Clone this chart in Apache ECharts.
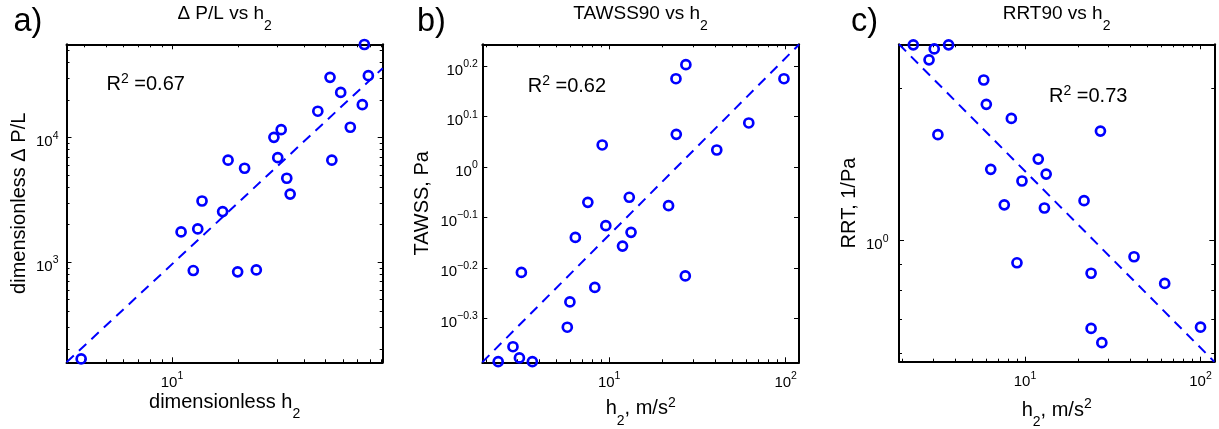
<!DOCTYPE html>
<html><head><meta charset="utf-8">
<script src="https://cdn.jsdelivr.net/npm/echarts@6/dist/echarts.min.js"></script>
<style>html,body{margin:0;padding:0;background:#fff}#c{width:1219px;height:429px}</style>
</head><body><div id="c"></div>
<script>
// ---------- data ----------
// a) dimensionless dP/L vs dimensionless h2
const aH2  = [3.86, 11.0, 13.1, 12.5, 13.7, 17.0, 18.0, 19.9, 21.4, 24.2, 29.1, 31.4, 30.3, 33.3, 34.5, 46.1, 52.4, 53.4, 58.6, 64.8, 73.5, 75.1, 78.3];
const aDPL = [167, 1750, 1850, 857, 3100, 2550, 6590, 836, 5680, 867, 10070, 11590, 6910, 4720, 3520, 16300, 30540, 6590, 23100, 12120, 18400, 56000, 31450];
const aFitX = [3.31, 91];
const aFitY = [157, 36100];
// b) TAWSS90 vs h2
const bH2    = [2.35, 2.85, 3.10, 3.67, 3.18, 5.79, 5.99, 6.43, 7.57, 8.29, 9.13, 9.57, 11.9, 13.0, 13.3, 21.7, 23.9, 24.0, 27.2, 27.0, 40.7, 61.8, 97.8];
const bTAWSS = [0.411, 0.440, 0.418, 0.411, 0.618, 0.481, 0.540, 0.725, 0.851, 0.577, 1.106, 0.765, 0.697, 0.871, 0.742, 0.838, 1.497, 1.161, 1.596, 0.608, 1.081, 1.223, 1.497];
const bFitX = [1.91, 119];
const bFitY = [0.41, 1.75];
// c) RRT90 vs h2
const cH2  = [2.31, 3.04, 3.67, 2.84, 3.19, 5.82, 6.02, 6.38, 7.62, 8.36, 9.00, 9.61, 11.9, 13.2, 12.9, 21.7, 23.8, 23.8, 26.9, 27.4, 41.8, 62.5, 100];
const cRRT = [2.43, 2.385, 2.43, 2.27, 1.617, 2.072, 1.856, 1.382, 1.177, 1.741, 0.905, 1.311, 1.448, 1.353, 1.160, 1.199, 0.863, 0.672, 1.644, 0.630, 0.930, 0.824, 0.676];
const cFitX = [1.915, 119.8];
const cFitY = [2.436, 0.578];

// axis ranges
const aXRange = [3.31, 91],   aYRange = [157, 56200];
const bXRange = [1.91, 119],  bYRange = [0.4098, 1.752];
const cXRange = [1.915, 119.8], cYRange = [0.578, 2.436];

// ticks
const aXMajor = [10];
const aXMinor = [4, 5, 6, 7, 8, 9, 20, 30, 40, 50, 60, 70, 80, 90];
const aYMajor = [1000, 10000];
const aYMinor = [200, 300, 400, 500, 600, 700, 800, 900, 2000, 3000, 4000, 5000, 6000, 7000, 8000, 9000, 20000, 30000, 40000, 50000];
const bXMajor = [10, 100];
const bXMinor = [2, 3, 4, 5, 6, 7, 8, 9, 20, 30, 40, 50, 60, 70, 80, 90];
const bYExponents = [-0.3, -0.2, -0.1, 0, 0.1, 0.2];
const cXMajor = [10, 100];
const cXMinor = [2, 3, 4, 5, 6, 7, 8, 9, 20, 30, 40, 50, 60, 70, 80, 90];
const cYMajor = [1];
const cYMinor = [0.6, 0.7, 0.8, 0.9, 2];

const panelLetters = ['a)', 'b)', 'c)'];
const panelTitles = [['\u0394 P/L vs h', '2'], ['TAWSS90 vs h', '2'], ['RRT90 vs h', '2']];
const r2Texts = ['=0.67', '=0.62', '=0.73'];

// ---------- styling ----------
const FONT = "'Liberation Sans', Arial, Helvetica, sans-serif";
function rs(size, lh, padTop) {
  return {fontSize: size, lineHeight: lh, padding: [padTop || 0, 0, 0, 0], verticalAlign: 'top', fontFamily: FONT, color: '#000'};
}
const tickRich = {b: rs(15, 15, 4.4), s: rs(10.5, 10.5, 0)};
function powLabel(v) {
  const e = Math.round(Math.log10(v) * 10) / 10;
  return '{b|10}{s|' + (e < 0 ? '\u2212' : '') + Math.abs(e) + '}';
}

const grids = [
  {left: 66.5, top: 44.3, width: 316.2, height: 318},
  {left: 482.3, top: 44.3, width: 316.7, height: 318},
  {left: 899, top: 44.3, width: 315.3, height: 317.4}
];

const xAxes = [], yAxes = [];
function addAxes(list, dim, gi, range, major, minor, o) {
  const isX = dim === 'x';
  const pos = isX ? ['bottom', 'top'] : ['left', 'right'];
  const base = {type: 'log', logBase: 10, gridIndex: gi, min: range[0], max: range[1],
    splitLine: {show: false}, minorTick: {show: false}, minorSplitLine: {show: false},
    silent: true, axisPointer: {show: false}, nameMoveOverlap: false};
  let mainIdx = -1;
  pos.forEach((p, k) => {
    const ax = Object.assign({}, base, {
      position: p, offset: 0,
      axisLine: {show: true, onZero: false, lineStyle: {color: '#000', width: 2}},
      axisTick: {show: true, inside: true, length: 5, customValues: major, lineStyle: {color: '#000', width: 1}},
      axisLabel: k === 0 ? {show: true, customValues: major, formatter: powLabel, margin: o.margin,
        color: '#000', fontFamily: FONT, fontSize: 15, rich: tickRich} : {show: false}
    });
    if (k === 0) {
      ax.name = o.name; ax.nameLocation = 'middle'; ax.nameGap = o.nameGap;
      ax.nameRotate = isX ? 0 : 90;
      ax.nameTextStyle = Object.assign({fontSize: 20, lineHeight: 20, fontFamily: FONT, color: '#000'}, o.nameRich ? {rich: o.nameRich} : {});
      mainIdx = list.length;
    }
    list.push(ax);
    if (minor.length) {
      list.push(Object.assign({}, base, {position: p, offset: 0,
        axisLine: {show: false, onZero: false},
        axisTick: {show: true, inside: true, length: 3, customValues: minor, lineStyle: {color: '#000', width: 1}},
        axisLabel: {show: false}}));
    }
  });
  return mainIdx;
}

const subNameRich = {b: rs(20, 20, 0), sub: rs(14, 14, 15)};
const unitNameRich = {b: rs(20, 20, 3.1), sub: rs(14, 14, 18.1), sp: rs(14, 14, 0)};

const ax = [];
ax.push({
  x: addAxes(xAxes, 'x', 0, aXRange, aXMajor, aXMinor, {margin: 8.7, name: '{b|dimensionless h}{sub|2}', nameGap: 30, nameRich: subNameRich}),
  y: addAxes(yAxes, 'y', 0, aYRange, aYMajor, aYMinor, {margin: 8, name: 'dimensionless \u0394 P/L', nameGap: 37.5})
});
ax.push({
  x: addAxes(xAxes, 'x', 1, bXRange, bXMajor, bXMinor, {margin: 8.7, name: '{b|h}{sub|2}{b|, m/s}{sp|2}', nameGap: 33.4, nameRich: unitNameRich}),
  y: addAxes(yAxes, 'y', 1, bYRange, bYExponents.map(e => Math.pow(10, e)), [], {margin: 4.5, name: 'TAWSS, Pa', nameGap: 50})
});
ax.push({
  x: addAxes(xAxes, 'x', 2, cXRange, cXMajor, cXMinor, {margin: 8.7, name: '{b|h}{sub|2}{b|, m/s}{sp|2}', nameGap: 35.5, nameRich: unitNameRich}),
  y: addAxes(yAxes, 'y', 2, cYRange, cYMajor, cYMinor, {margin: 10.5, name: 'RRT, 1/Pa', nameGap: 40})
});

const zip = (xs, ys) => xs.map((x, i) => [x, ys[i]]);
const panels = [[aH2, aDPL, aFitX, aFitY], [bH2, bTAWSS, bFitX, bFitY], [cH2, cRRT, cFitX, cFitY]];
const series = [];
panels.forEach((p, i) => {
  series.push({type: 'line', xAxisIndex: ax[i].x, yAxisIndex: ax[i].y, data: zip(p[2], p[3]),
    symbol: 'none', silent: true, z: 2, clip: true,
    lineStyle: {color: '#0000ff', width: 2, type: [10, 7]}});
  series.push({type: 'scatter', xAxisIndex: ax[i].x, yAxisIndex: ax[i].y, data: zip(p[0], p[1]),
    symbol: 'circle', symbolSize: 9, silent: true, z: 3, clip: false,
    itemStyle: {color: 'rgba(0,0,0,0)', borderColor: '#0000ff', borderWidth: 2.7, opacity: 1}});
});

// titles / annotations
const titles = [];
const letterX = [13.5, 417, 851];
const titleCX = [224.6, 640.6, 1056.6];
const r2Pos = [[106.5, 72.2], [527.7, 73.8], [1049, 83.8]];
const titleRich = {b: rs(19, 19, 0), sub: rs(14, 14, 14.2)};
const r2Rich = {b: rs(20, 20, 2.5), sp: rs(14, 14, 0)};
for (let i = 0; i < 3; i++) {
  titles.push({text: panelLetters[i], left: letterX[i], top: 6, padding: 0,
    textStyle: {fontSize: 32.5, lineHeight: 32.5, fontWeight: 'normal', fontFamily: FONT, color: '#000'}});
  titles.push({text: '{b|' + panelTitles[i][0] + '}{sub|' + panelTitles[i][1] + '}', left: titleCX[i], top: 4.6,
    textAlign: 'center', padding: 0,
    textStyle: {fontSize: 19, fontWeight: 'normal', fontFamily: FONT, color: '#000', rich: titleRich}});
  titles.push({text: '{b|R}{sp|2}{b| ' + r2Texts[i] + '}', left: r2Pos[i][0], top: r2Pos[i][1], padding: 0,
    textStyle: {fontSize: 20, fontWeight: 'normal', fontFamily: FONT, color: '#000', rich: r2Rich}});
}

const chart = echarts.init(document.getElementById('c'), null, {renderer: 'canvas'});
chart.setOption({
  animation: false,
  backgroundColor: '#fff',
  textStyle: {fontFamily: FONT},
  title: titles,
  grid: grids.map(g => Object.assign({outerBoundsMode: 'none', containLabel: false}, g)),
  xAxis: xAxes,
  yAxis: yAxes,
  series: series
});
</script>
</body></html>
